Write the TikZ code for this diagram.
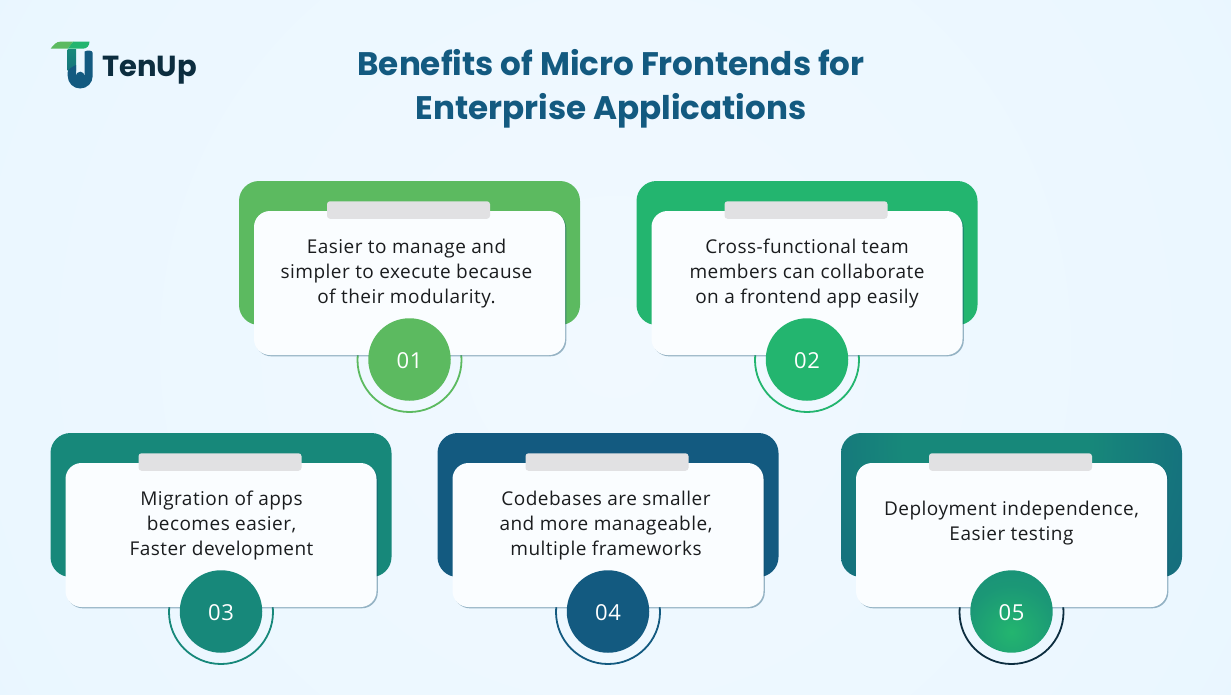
\documentclass[tikz,border=0pt]{standalone}
\usepackage{fontspec}
\setmainfont[LetterSpace=2.5]{Open Sans}
\newfontfamily\headfont{Poppins}
\definecolor{cA}{HTML}{5CBA60}
\definecolor{cB}{HTML}{23B56F}
\definecolor{cC}{HTML}{17887A}
\definecolor{cD}{HTML}{135A80}
\definecolor{cInk}{HTML}{0C2D3F}
\definecolor{cBar}{HTML}{E1E1E3}
\definecolor{cTxt}{HTML}{1A1C1E}
\definecolor{bgA}{HTML}{F1F9FF}
\definecolor{bgB}{HTML}{EBF7FF}
\definecolor{bgC}{HTML}{E4F4FE}
\pgfdeclareradialshading{bgshade}{\pgfpoint{0bp}{0bp}}{color(0bp)=(bgA); color(20bp)=(bgB); color(34bp)=(bgC); color(50bp)=(bgC)}
\pgfdeclareradialshading{backshade}{\pgfpoint{0bp}{0bp}}{color(0bp)=(cC); color(10bp)=(cC); color(20bp)=(cC!55!cD); color(34bp)=(cD!85!cC); color(50bp)=(cD)}
\pgfdeclareradialshading{discshade}{\pgfpoint{0bp}{0bp}}{color(0bp)=(cB); color(18bp)=(cC!65!cB); color(40bp)=(cC); color(50bp)=(cC)}
\tikzset{
  backcard/.style={rectangle,rounded corners=20pt,minimum width=341pt,minimum height=144pt,inner sep=0pt},
  whitecard/.style={rectangle,rounded corners=16pt,minimum width=311pt,minimum height=144pt,inner sep=0pt,fill=white!98!cyan},
  shadowcard/.style={rectangle,rounded corners=16pt,minimum width=311pt,minimum height=144pt,inner sep=0pt,fill=cD!85!black,opacity=.4},
  barbox/.style={rectangle,rounded corners=3pt,minimum width=163pt,minimum height=17.5pt,inner sep=0pt,fill=cBar},
  disc/.style={circle,minimum size=82.5pt,inner sep=0pt},
  ringc/.style={circle,minimum size=104pt,inner sep=0pt,draw,line width=1.8pt},
  bodytxt/.style={font=\fontsize{19}{25}\selectfont,text=cTxt,align=center,inner sep=0pt},
  numtxt/.style={font=\fontsize{22}{22}\selectfont,text=white,inner sep=0pt},
  titletxt/.style={font=\headfont\bfseries\fontsize{32.6}{44}\selectfont,text=cD,align=center,inner sep=0pt},
  logotxt/.style={font=\headfont\bfseries\fontsize{29}{29}\selectfont,text=cInk,anchor=base west,inner sep=0pt}
}
% #1 name, #2 centre x of back card, #3 top y of back card, #4 colour, #5 number, #6 text x shift, #7 text y, #8 text
\newcommand{\benefitcard}[8]{%
  \node[backcard,fill=#4] (#1back) at (#2,#3+72) {};
  \node[ringc,draw=#4] (#1ring) at (#2,#3+179) {};
  \node[shadowcard] (#1shadow) at (#2+1.3,#3+103.3) {};
  \node[whitecard] (#1card) at (#2,#3+102) {};
  \node[barbox] (#1bar) at (#2-1,#3+29) {};
  \node[disc,fill=#4] (#1disc) at (#2,#3+178.5) {};
  \node[numtxt] (#1num) at (#2,#3+179.5) {#5};
  \node[bodytxt] (#1txt) at (#2+#6,#7) {#8};
}
\begin{document}
\begin{tikzpicture}[x=1pt,y=-1pt]
\useasboundingbox (0,0) rectangle (1231,694);
\begin{scope}
  \clip (0,0) rectangle (1231,694);
  \shade[shading=bgshade] (615,347) circle (760);
\end{scope}
% logo
\fill[cA] (50.7,48.7) .. controls (53,45.5) and (56,41.5) .. (61,41.5) -- (73.5,41.5) -- (67.5,48.7) -- cycle;
\fill[cB] (67.5,48.7) -- (73.5,41.5) -- (89.5,41.5) .. controls (89.5,45.5) and (87,48.7) .. (83,48.7) -- cycle;
\shade[top color=cC,bottom color=cC!60!cD] (67.7,49.5) -- (76,49.5) -- (76,70) -- (67.7,70) -- cycle;
\fill[cD] (84.5,51.5) .. controls (87.5,50) and (92.5,50) .. (92.7,53) -- (92.7,76) arc[start angle=0,end angle=180,radius=12.5] -- (67.7,72) .. controls (68,69) and (73,66.5) .. (76,65) -- (76,76) arc[start angle=180,end angle=360,radius=4.3] -- cycle;
\node[logotxt] (logotext) at (102,76) {TenUp};
% title
\node[titletxt] (title) at (611,89) {Benefits of Micro Frontends for\\Enterprise Applications};
% cards
\benefitcard{one}{409.5}{181}{cA}{01}{-3}{273.5}{Easier to manage and\\simpler to execute because\\of their modularity.}
\benefitcard{two}{807}{181}{cB}{02}{0}{273.5}{Cross-functional team\\members can collaborate\\on a frontend app easily}
\benefitcard{three}{221}{433}{cC}{03}{0.5}{525.5}{Migration of apps\\becomes easier,\\Faster development}
\benefitcard{four}{608}{433}{cD}{04}{-2}{525.5}{Codebases are smaller\\and more manageable,\\multiple frameworks}
% card five, with gradients
\begin{scope}
  \clip[rounded corners=20pt] (841,433) rectangle (1182,577);
  \shade[shading=backshade] (995,445) circle (230);
\end{scope}
\node[backcard] (fiveback) at (1011.5,505) {};
\node[ringc,draw=cInk] (fivering) at (1011.5,612) {};
\node[shadowcard] (fiveshadow) at (1012.8,536.3) {};
\node[whitecard] (fivecard) at (1011.5,535) {};
\node[barbox] (fivebar) at (1010.5,462) {};
\begin{scope}
  \clip (1011.5,611.5) circle (41.2);
  \shade[shading=discshade] (1011.5,632) circle (64);
\end{scope}
\node[disc] (fivedisc) at (1011.5,611.5) {};
\node[numtxt] (fivenum) at (1011.5,612.5) {05};
\node[bodytxt] (fivetxt) at (1011.5,523) {Deployment independence,\\Easier testing};
\end{tikzpicture}
\end{document}
